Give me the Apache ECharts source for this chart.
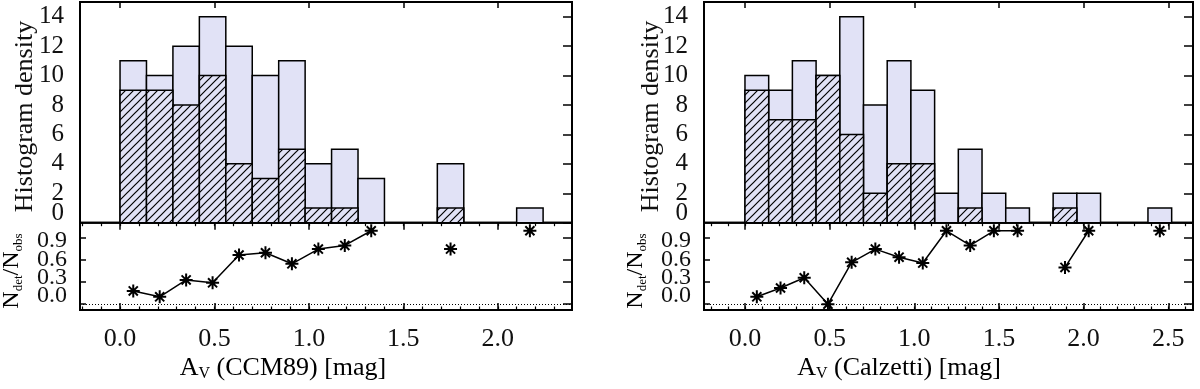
<!DOCTYPE html>
<html><head><meta charset="utf-8">
<script src="https://cdn.jsdelivr.net/npm/echarts@6/dist/echarts.min.js"></script>
<style>html,body{margin:0;padding:0;background:#fff}#c{width:1200px;height:389px}</style>
</head><body><div id="c"></div>
<script>
// ---- data ----
const BIN_START = 0.0;
const BIN_WIDTH = 0.14;
const ccmTotal   = [11, 10, 12, 14, 12, 10, 11, 4, 5, 3, 0, 0, 4, 0, 0, 1];
const ccmHatched = [9, 9, 8, 10, 4, 3, 5, 1, 1, 0, 0, 0, 1, 0, 0, 0];
const ccmRatio   = [0.18, 0.10, 0.33, 0.29, 0.67, 0.70, 0.55, 0.75, 0.80, 1.00, null, null, 0.75, null, null, 1.00];
const calTotal   = [10, 9, 11, 10, 14, 8, 11, 9, 2, 5, 2, 1, 0, 2, 2, 0, 0, 1];
const calHatched = [9, 7, 7, 10, 6, 2, 4, 4, 0, 1, 0, 0, 0, 1, 0, 0, 0, 0];
const calRatio   = [0.10, 0.22, 0.36, 0.00, 0.57, 0.75, 0.64, 0.56, 1.00, 0.80, 1.00, 1.00, null, 0.50, 1.00, null, null, 1.00];
const xMajorCCM  = [0.0, 0.5, 1.0, 1.5, 2.0];
const xMajorCal  = [0.0, 0.5, 1.0, 1.5, 2.0, 2.5];
const histTicks  = [0, 2, 4, 6, 8, 10, 12, 14];
const ratioTicks = [0.0, 0.3, 0.6, 0.9];

// ---- styling ----
const FONT = 'Liberation Serif';
const TXT = '#111';
const LIGHT = '#e1e2f6';
const HIST_TOP = 2, HIST_H = 220.7, RATIO_TOP = 222.7, RATIO_H = 87.3;
const RATIO_MIN = -0.08, RATIO_MAX = 1.11;
// vertical nudge (px, + = down) of some tick labels, as in the reference
const histLabelShift  = { 0: -9 };
const ratioLabelShift = { 0: -8, 1: -4.5, 2: 0, 3: 2.5 };

const hatch = document.createElement('canvas');
hatch.width = 8; hatch.height = 8;
(function () {
  const g = hatch.getContext('2d');
  g.fillStyle = LIGHT; g.fillRect(0, 0, 8, 8);
  g.strokeStyle = '#000'; g.lineWidth = 1.2;
  g.beginPath();
  g.moveTo(-1, 1); g.lineTo(1, -1);
  g.moveTo(0, 8); g.lineTo(8, 0);
  g.moveTo(7, 9); g.lineTo(9, 7);
  g.stroke();
})();
const hatchFill = { image: hatch, repeat: 'repeat' };

const panels = [
  { left: 80, width: 492, xmin: -0.212, xmax: 2.393, total: ccmTotal, hatched: ccmHatched, ratio: ccmRatio, major: xMajorCCM,
    xTitle: 'CCM89', xTitleX: 283, yTitleX: 25.5, rTitleX: 12 },
  { left: 704, width: 489, xmin: -0.242, xmax: 2.646, total: calTotal, hatched: calHatched, ratio: calRatio, major: xMajorCal,
    xTitle: 'Calzetti', xTitleX: 899, yTitleX: 651, rTitleX: 636 }
];

const grid = [], xAxis = [], yAxis = [], series = [], graphic = [];
const noLine = { show: false, onZero: false }, noSplit = { show: false };
function tickStyle(w) { return { color: '#000', width: w }; }
function shiftPad(d) { return d < 0 ? [0, 0, -2 * d, 0] : (d > 0 ? [2 * d, 0, 0, 0] : [0, 0, 0, 0]); }

function barRender(fillFn) {
  return function (params, api) {
    const h = api.value(2);
    if (!h) return null;
    const p0 = api.coord([api.value(0), 0]);
    const p1 = api.coord([api.value(1), h]);
    return {
      type: 'rect',
      shape: { x: p0[0], y: p1[1], width: p1[0] - p0[0], height: p0[1] - p1[1] },
      style: { fill: fillFn(), stroke: '#000', lineWidth: 1.5 }
    };
  };
}

// label-only y axes: one per distinct nudge, so each label keeps its own offset
function labelAxes(gridIndex, min, max, values, shifts, margin, fs, fmt) {
  const groups = {};
  values.forEach((v, k) => { const d = shifts[k] || 0; (groups[d] = groups[d] || []).push(v); });
  Object.keys(groups).forEach(d => {
    yAxis.push({ type: 'value', gridIndex, position: 'left', min, max, axisLine: noLine, splitLine: noSplit,
      axisTick: { show: false },
      axisLabel: { show: true, customValues: groups[d], margin, hideOverlap: false,
        rich: { p: { fontFamily: FONT, fontSize: fs, color: TXT, padding: shiftPad(Number(d)) } },
        formatter: v => '{p|' + fmt(v) + '}' } });
  });
}

panels.forEach((p, i) => {
  const gh = 2 * i, gr = 2 * i + 1;
  grid.push({ left: p.left, top: HIST_TOP, width: p.width, height: HIST_H, show: true, borderColor: '#000', borderWidth: 2 });
  grid.push({ left: p.left, top: RATIO_TOP, width: p.width, height: RATIO_H, show: true, borderColor: '#000', borderWidth: 2 });

  const minor = [];
  for (let k = Math.ceil(p.xmin * 10); k <= Math.floor(p.xmax * 10); k++) minor.push(k / 10);

  const xb = xAxis.length;
  const base = { type: 'value', min: p.xmin, max: p.xmax, axisLine: noLine, splitLine: noSplit };
  xAxis.push(Object.assign({}, base, { gridIndex: gh, position: 'bottom', axisTick: { show: false }, axisLabel: { show: false } }));
  xAxis.push(Object.assign({}, base, { gridIndex: gh, position: 'top',
    axisTick: { show: true, inside: true, length: 6, customValues: p.major, lineStyle: tickStyle(1.5) }, axisLabel: { show: false } }));
  xAxis.push(Object.assign({}, base, { gridIndex: gr, position: 'bottom',
    axisTick: { show: true, inside: true, length: 7, customValues: p.major, lineStyle: tickStyle(1.5) },
    axisLabel: { show: true, customValues: p.major, margin: 16, fontFamily: FONT, fontSize: 26, color: TXT, hideOverlap: false,
      formatter: v => Number(v).toFixed(1) } }));
  xAxis.push(Object.assign({}, base, { gridIndex: gr, position: 'bottom',
    axisTick: { show: true, inside: true, length: 3.5, customValues: minor, lineStyle: tickStyle(1.2) }, axisLabel: { show: false } }));
  xAxis.push(Object.assign({}, base, { gridIndex: gr, position: 'top',
    axisTick: { show: true, inside: true, length: 7, customValues: p.major, lineStyle: tickStyle(1.5) }, axisLabel: { show: false } }));
  xAxis.push(Object.assign({}, base, { gridIndex: gr, position: 'top',
    axisTick: { show: true, inside: true, length: 3.5, customValues: minor, lineStyle: tickStyle(1.2) }, axisLabel: { show: false } }));

  const yHist = yAxis.length;
  yAxis.push({ type: 'value', gridIndex: gh, position: 'left', min: 0, max: 15, axisLine: noLine, splitLine: noSplit,
    axisTick: { show: false }, axisLabel: { show: false } });
  yAxis.push({ type: 'value', gridIndex: gh, position: 'right', min: 0, max: 15, axisLine: noLine, splitLine: noSplit,
    axisTick: { show: true, inside: true, length: 9, customValues: histTicks, lineStyle: tickStyle(1.5) }, axisLabel: { show: false } });
  labelAxes(gh, 0, 15, histTicks, histLabelShift, 16, 25, v => String(Number(v)));

  const yRatio = yAxis.length;
  yAxis.push({ type: 'value', gridIndex: gr, position: 'left', min: RATIO_MIN, max: RATIO_MAX, axisLine: noLine, splitLine: noSplit,
    axisTick: { show: true, inside: true, length: 6, customValues: ratioTicks, lineStyle: tickStyle(1.5) }, axisLabel: { show: false } });
  yAxis.push({ type: 'value', gridIndex: gr, position: 'right', min: RATIO_MIN, max: RATIO_MAX, axisLine: noLine, splitLine: noSplit,
    axisTick: { show: true, inside: true, length: 9, customValues: ratioTicks, lineStyle: tickStyle(1.5) }, axisLabel: { show: false } });
  labelAxes(gr, RATIO_MIN, RATIO_MAX, ratioTicks, ratioLabelShift, 13, 24, v => Number(v).toFixed(1));

  const edges = k => [BIN_START + k * BIN_WIDTH, BIN_START + (k + 1) * BIN_WIDTH];
  series.push({ type: 'custom', xAxisIndex: xb, yAxisIndex: yHist, renderItem: barRender(() => LIGHT),
    data: p.total.map((h, k) => edges(k).concat([h])), encode: { x: [0, 1], y: 2 }, z: 2 });
  series.push({ type: 'custom', xAxisIndex: xb, yAxisIndex: yHist, renderItem: barRender(() => hatchFill),
    data: p.hatched.map((h, k) => edges(k).concat([h])), encode: { x: [0, 1], y: 2 }, z: 3 });
  series.push({ type: 'line', xAxisIndex: xb + 2, yAxisIndex: yRatio,
    data: p.ratio.map((v, k) => [BIN_START + (k + 0.5) * BIN_WIDTH, v === null ? '-' : v]),
    connectNulls: false, showAllSymbol: true,
    symbol: 'path://M10,0L10,20M0,10L20,10M3,3L17,17M3,17L17,3', symbolSize: 13, symbolKeepAspect: true,
    itemStyle: { color: '#000', borderColor: '#000', borderWidth: 2 },
    lineStyle: { color: '#000', width: 1.5 }, z: 4, animation: false,
    markLine: { silent: true, symbol: 'none', label: { show: false },
      lineStyle: { color: '#000', width: 1, type: [1, 2] }, data: [{ yAxis: 0 }] } });

  const subRich = {
    m: { fontFamily: FONT, fontSize: 26, color: TXT, lineHeight: 28 },
    s: { fontFamily: FONT, fontSize: 16, color: TXT, lineHeight: 22, verticalAlign: 'bottom' }
  };
  graphic.push({ type: 'text', x: p.xTitleX, y: 368, style: {
    text: '{m|A}{s|V}{m| (' + p.xTitle + ') [mag]}', rich: subRich, align: 'center', verticalAlign: 'middle' } });
  graphic.push({ type: 'text', x: p.yTitleX, y: 116.5, rotation: Math.PI / 2, style: {
    text: 'Histogram density', fontFamily: FONT, fontSize: 26, fill: TXT, align: 'center', verticalAlign: 'middle' } });
  const rRich = {
    m: { fontFamily: FONT, fontSize: 24, color: TXT, lineHeight: 26 },
    s: { fontFamily: FONT, fontSize: 13, color: TXT, lineHeight: 20, verticalAlign: 'bottom' }
  };
  graphic.push({ type: 'text', x: p.rTitleX, y: 271, rotation: Math.PI / 2, style: {
    text: '{m|N}{s|det}{m|/N}{s|obs}', rich: rRich, align: 'center', verticalAlign: 'middle' } });
});

const chart = echarts.init(document.getElementById('c'), null, { renderer: 'canvas' });
chart.setOption({ animation: false, backgroundColor: '#fff', grid, xAxis, yAxis, series, graphic });
</script></body></html>
